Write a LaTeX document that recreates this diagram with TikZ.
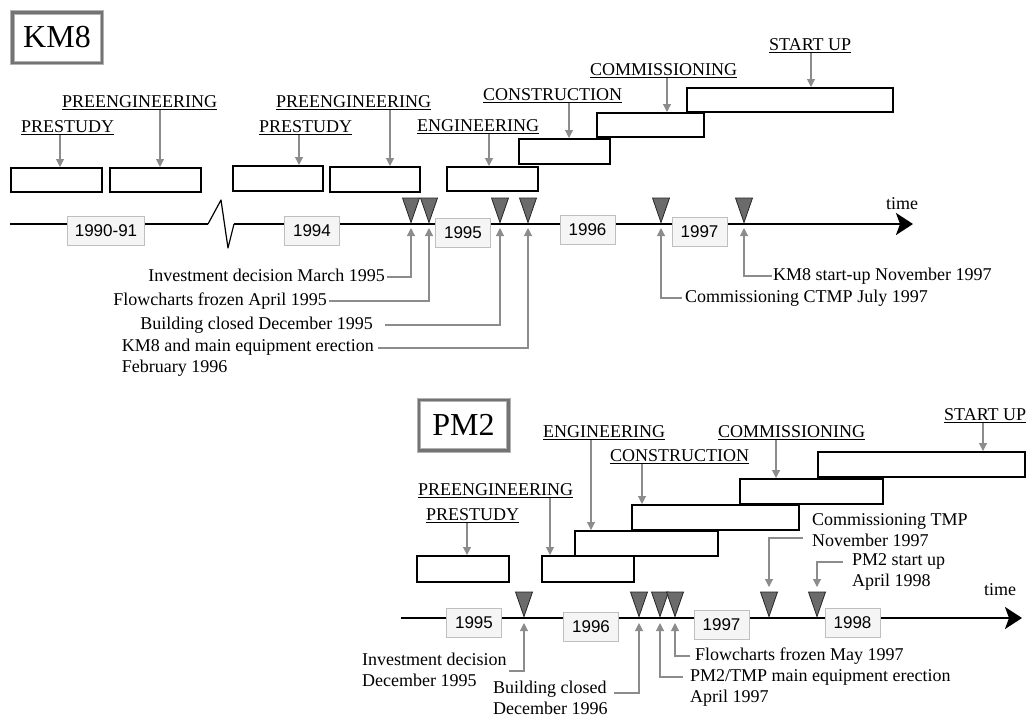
\documentclass[tikz,border=0pt]{standalone}
\usepackage{fontspec}
\setmainfont{Liberation Serif}
\newfontfamily\yearfont{Liberation Sans}
\usetikzlibrary{arrows.meta}

\tikzset{
  phase/.style={draw, line width=1.5pt, fill=white, anchor=north west, inner sep=0pt},
  phaselabel/.style={font=\fontsize{18}{21}\selectfont, inner sep=0pt, anchor=south west},
  year/.style={draw=black!25, fill=black!4, line width=1pt, font=\yearfont\fontsize{17}{20}\selectfont,
    minimum width=55pt, minimum height=29pt, inner xsep=7pt},
  note/.style={font=\fontsize{18}{21}\selectfont, inner sep=0pt, text height=12pt, text depth=3.5pt},
  note2/.style={font=\fontsize{18}{21}\selectfont, inner sep=0pt, align=left},
  callout/.style={draw=black!45, line width=1.1pt, -{Triangle[length=8pt,width=8pt]}},
  titlebox/.style={draw=black!30, double=black!55, line width=1pt, double distance=2.5pt,
    font=\fontsize{32}{36}\selectfont, minimum width=89.5pt, minimum height=50.5pt},
  timeline/.style={line width=2pt, -{Stealth[length=17pt,width=22pt,inset=4pt]}},
  mstone/.pic={\draw[fill=black!58, draw=black!85, line width=.8pt] (-8.5,-26) -- (8.5,-26) -- (0,-1.5) -- cycle;}
}

\begin{document}
\begin{tikzpicture}[x=1pt, y=-1pt]
\useasboundingbox (0,0) rectangle (1031,718);

% ---------------- KM8 ----------------
\node[titlebox] (km8) at (57,37.5) {KM8};

% time axis with break
\coordinate (kstart) at (10,224);
\coordinate (kend) at (913,224);
\draw[line width=2pt] (kstart) -- (208,224);
\draw[line width=1.2pt, line join=round] (208,224) -- (221,200) -- (228,248) -- (234,224);
\draw[timeline] (234,224) -- (kend);
\node[note] (ktime) at (902,205) {time};

\node[year] (y9091) at (106,230.5) {1990-91};
\node[year] (y94) at (312,230.5) {1994};
\node[year] (y95a) at (463,233) {1995};
\node[year] (y96a) at (587.5,230) {1996};
\node[year] (y97a) at (699.5,231.5) {1997};

% milestones
\coordinate (k1) at (411,224);
\coordinate (k2) at (429,224);
\coordinate (k3) at (500,224);
\coordinate (k4) at (528,224);
\coordinate (k5) at (661,224);
\coordinate (k6) at (744,224);
\foreach \m in {k1,k2,k3,k4,k5,k6}
  \pic at (\m) {mstone};

% phases
\node[phase, minimum width=91, minimum height=24] (ps1box) at (10,167) {};
\node[phase, minimum width=91, minimum height=24] (pe1box) at (109,167) {};
\node[phase, minimum width=90, minimum height=25] (ps2box) at (232,165) {};
\node[phase, minimum width=90, minimum height=25] (pe2box) at (329,166) {};
\node[phase, minimum width=91, minimum height=24] (engbox) at (446,166) {};
\node[phase, minimum width=91, minimum height=25] (conbox) at (518,138) {};
\node[phase, minimum width=107, minimum height=24] (combox) at (596,112) {};
\node[phase, minimum width=206, minimum height=24] (supbox) at (686,87) {};

\node[phaselabel] (ps1) at (21,135) {\underline{PRESTUDY}};
\node[phaselabel] (pe1) at (62,110) {\underline{PREENGINEERING}};
\node[phaselabel] (ps2) at (259,135) {\underline{PRESTUDY}};
\node[phaselabel] (pe2) at (276,110) {\underline{PREENGINEERING}};
\node[phaselabel] (eng1) at (417,134) {\underline{ENGINEERING}};
\node[phaselabel] (con1) at (483,103) {\underline{CONSTRUCTION}};
\node[phaselabel] (com1) at (590,78) {\underline{COMMISSIONING}};
\node[phaselabel] (sup1) at (769,53) {\underline{START UP}};

\draw[callout] (ps1.south -| 60,0) -- (ps1box.north -| 60,0);
\draw[callout] (pe1.south -| 160,0) -- (pe1box.north -| 160,0);
\draw[callout] (ps2.south -| 299,0) -- (ps2box.north -| 299,0);
\draw[callout] (pe2.south -| 390,0) -- (pe2box.north -| 390,0);
\draw[callout] (eng1.south -| 489,0) -- (engbox.north -| 489,0);
\draw[callout] (con1.south -| 569,0) -- (conbox.north -| 569,0);
\draw[callout] (com1.south -| 667,0) -- (combox.north -| 667,0);
\draw[callout] (sup1.south -| 811,0) -- (supbox.north -| 811,0);

% events
\node[note, anchor=east] (inv) at (385,277) {Investment decision March 1995};
\node[note, anchor=east] (flo) at (327,301) {Flowcharts frozen April 1995};
\node[note, anchor=east] (bld) at (373,325) {Building closed December 1995};
\node[note2, anchor=north east] (erc) at (374,339) {KM8 and main equipment erection\\February 1996};
\node[note, anchor=west] (ctmp1) at (685,298) {Commissioning CTMP July 1997};
\node[note, anchor=west] (kst) at (773,276) {KM8 start-up November 1997};

\draw[callout] ([xshift=2pt]inv.east) -| ([yshift=-4pt]k1);
\draw[callout] ([xshift=2pt]flo.east) -| ([yshift=-4pt]k2);
\draw[callout] ([xshift=12pt]bld.east) -| ([yshift=-4pt]k3);
\draw[callout] ([xshift=4pt,yshift=-9pt]erc.north east) -| ([yshift=-4pt]k4);
\draw[callout] ([xshift=-3pt]ctmp1.west) -| ([yshift=-4pt]k5);
\draw[callout] ([xshift=-1pt]kst.west) -| ([yshift=-4pt]k6);

% ---------------- PM2 ----------------
\node[titlebox] (pm2) at (463.5,425) {PM2};

\coordinate (pstart) at (401,618);
\coordinate (pend) at (1022,618);
\draw[timeline] (pstart) -- (pend);
\node[note] (ptime) at (1000,591) {time};

\node[year] (y95b) at (474,623) {1995};
\node[year] (y96b) at (591,627) {1996};
\node[year] (y97b) at (721.5,625) {1997};
\node[year] (y98b) at (852.5,623) {1998};

\coordinate (p1) at (524,618);
\coordinate (p2) at (639,618);
\coordinate (p3) at (660,618);
\coordinate (p4) at (675,618);
\coordinate (p5) at (769,618);
\coordinate (p6) at (817,618);
\foreach \m in {p1,p2,p3,p4,p5,p6}
  \pic at (\m) {mstone};

\node[phase, minimum width=92, minimum height=26] (ps3box) at (416,555) {};
\node[phase, minimum width=92, minimum height=26] (pe3box) at (541,555) {};
\node[phase, minimum width=143, minimum height=25] (eng2box) at (574,530) {};
\node[phase, minimum width=167, minimum height=25] (con2box) at (631,504) {};
\node[phase, minimum width=143, minimum height=25] (com2box) at (739,478) {};
\node[phase, minimum width=207, minimum height=25] (sup2box) at (817,451) {};

\node[phaselabel] (ps3) at (426,523) {\underline{PRESTUDY}};
\node[phaselabel] (pe3) at (418,498) {\underline{PREENGINEERING}};
\node[phaselabel] (eng2) at (543,440) {\underline{ENGINEERING}};
\node[phaselabel] (con2) at (610,464) {\underline{CONSTRUCTION}};
\node[phaselabel] (com2) at (718,440) {\underline{COMMISSIONING}};
\node[phaselabel] (sup2) at (944,423) {\underline{START UP}};

\draw[callout] (ps3.south -| 467,0) -- (ps3box.north -| 467,0);
\draw[callout] (pe3.south -| 550,0) -- (pe3box.north -| 550,0);
\draw[callout] (eng2.south -| 591,0) -- (eng2box.north -| 591,0);
\draw[callout] (con2.south -| 642,0) -- (con2box.north -| 642,0);
\draw[callout] (com2.south -| 776,0) -- (com2box.north -| 776,0);
\draw[callout] (sup2.south -| 983,0) -- (sup2box.north -| 983,0);

\node[note2, anchor=north west] (inv2) at (362,653) {Investment decision\\December 1995};
\node[note2, anchor=north west] (bld2) at (493,681) {Building closed\\December 1996};
\node[note2, anchor=north west] (erc2) at (690,669) {PM2/TMP main equipment erection\\April 1997};
\node[note, anchor=west] (flo2) at (695,656) {Flowcharts frozen May 1997};
\node[note2, anchor=north west] (ctmp2) at (812,513) {Commissioning TMP\\November 1997};
\node[note2, anchor=north west] (pst) at (852,553) {PM2 start up\\April 1998};

\draw[callout] ([xshift=2pt,yshift=-18pt]inv2.north east) -| ([yshift=-5pt]p1);
\draw[callout] ([xshift=6pt,yshift=-12pt]bld2.north east) -| ([yshift=-5pt]p2);
\draw[callout] ([xshift=-7pt,yshift=-8pt]erc2.north west) -| ([yshift=-5pt]p3);
\draw[callout] ([xshift=-5pt]flo2.west) -| ([yshift=-5pt]p4);
\draw[callout] ([xshift=-9pt,yshift=-25pt]ctmp2.north west) -| ([yshift=31pt]p5);
\draw[callout] ([xshift=-9pt,yshift=-9pt]pst.north west) -| ([yshift=31pt]p6);
\end{tikzpicture}
\end{document}
